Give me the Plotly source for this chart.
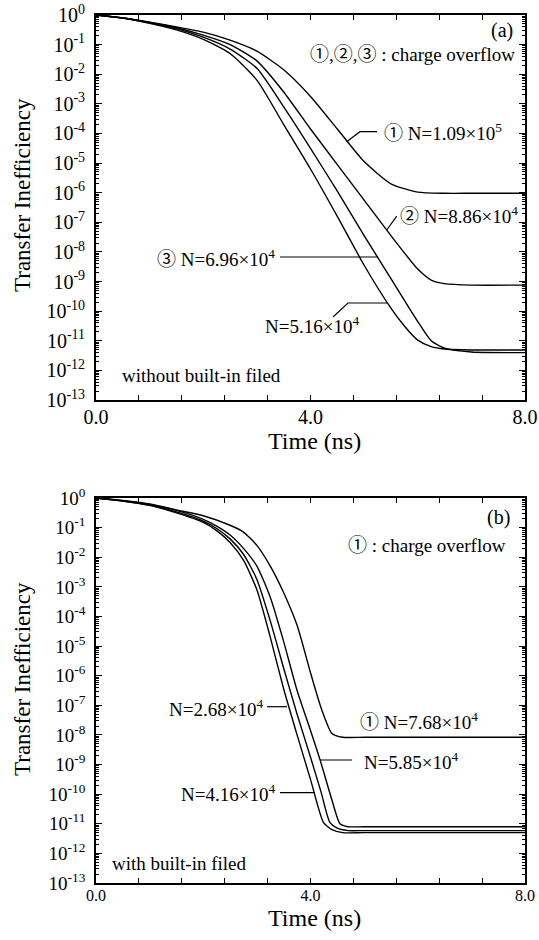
import plotly.graph_objects as go

# ---------------- data (log10 of transfer inefficiency) -------------
# panel (a): without built-in field
a1_t = [0, 0.5, 1, 1.5, 2, 2.5, 3, 3.5, 4, 4.5, 5, 5.5, 6, 6.5, 7, 8]
a1_log = [0, -0.1, -0.24, -0.4, -0.58, -0.85, -1.22, -1.85, -2.75, -3.85, -4.95, -5.7, -5.98, -6.02, -6.02, -6.02]
a2_t = [0, 0.5, 1, 1.5, 2, 2.5, 3, 3.5, 4, 4.5, 5, 5.5, 6, 6.25, 6.5, 7, 8]
a2_log = [0, -0.1, -0.25, -0.43, -0.68, -1.0, -1.55, -2.6, -3.85, -5.05, -6.25, -7.45, -8.58, -8.95, -9.07, -9.12, -9.12]
a3_t = [0, 0.5, 1, 1.5, 2, 2.5, 3, 3.5, 4, 4.5, 5, 5.5, 6, 6.25, 6.5, 7, 8]
a3_log = [0, -0.1, -0.26, -0.46, -0.75, -1.15, -1.8, -3.1, -4.5, -5.95, -7.45, -8.9, -10.35, -11.0, -11.25, -11.38, -11.4]
a4_t = [0, 0.5, 1, 1.5, 2, 2.5, 3, 3.5, 4, 4.5, 5, 5.5, 5.75, 6, 6.25, 6.5, 7, 8]
a4_log = [0, -0.1, -0.28, -0.5, -0.82, -1.3, -2.2, -3.7, -5.2, -6.8, -8.45, -9.9, -10.5, -10.98, -11.2, -11.28, -11.31, -11.31]

# panel (b): with built-in field
b1_t = [0, 0.5, 1, 1.5, 2, 2.5, 2.75, 3, 3.25, 3.5, 3.75, 4, 4.2, 4.4, 4.6, 5, 6, 7, 8]
b1_log = [0, -0.08, -0.2, -0.4, -0.6, -0.92, -1.15, -1.6, -2.3, -3.2, -4.3, -5.9, -7.1, -7.95, -8.08, -8.08, -8.08, -8.08, -8.08]
b2_t = [0, 0.5, 1, 1.5, 2, 2.25, 2.5, 2.75, 3, 3.25, 3.5, 3.75, 4, 4.18, 4.4, 4.55, 4.7, 5, 8]
b2_log = [0, -0.09, -0.22, -0.42, -0.72, -0.95, -1.25, -1.7, -2.3, -3.35, -4.85, -6.5, -7.85, -8.85, -10.2, -11.0, -11.1, -11.1, -11.1]
b3_t = [0, 0.5, 1, 1.5, 2, 2.25, 2.5, 2.75, 3, 3.25, 3.5, 3.75, 4, 4.2, 4.36, 4.5, 4.7, 5, 8]
b3_log = [0, -0.1, -0.24, -0.47, -0.78, -1.03, -1.38, -1.9, -2.75, -4.15, -5.75, -7.3, -8.75, -9.95, -10.95, -11.15, -11.23, -11.23, -11.23]
b4_t = [0, 0.5, 1, 1.5, 2, 2.25, 2.5, 2.75, 3, 3.25, 3.5, 3.75, 4, 4.24, 4.4, 4.6, 5, 8]
b4_log = [0, -0.1, -0.25, -0.5, -0.82, -1.1, -1.5, -2.1, -3.1, -4.7, -6.45, -8.0, -9.5, -10.95, -11.2, -11.3, -11.3, -11.3]

# label leader lines (x in ns, y in log10)
lead_a1 = ([4.675, 4.923, 5.24], [-4.278, -3.94, -3.94])
lead_a2 = ([5.421, 5.608], [-7.26, -6.79])
lead_a3 = ([3.431, 5.259], [-8.171, -8.171])
lead_a4 = ([4.42, 4.699, 5.427], [-10.197, -9.725, -9.725])
lead_b2 = ([4.177, 4.774], [-8.847, -8.847])
lead_b3 = ([3.431, 4.084], [-9.951, -9.951])
lead_b4 = ([3.189, 3.562], [-7.047, -7.047])

# axis ticks
x_tick_vals = [0, 0.8, 1.6, 2.4, 3.2, 4.0, 4.8, 5.6, 6.4, 7.2, 8.0]
x_tick_text = ["0.0", "", "", "", "", "4.0", "", "", "", "", "8.0"]
y_tick_exponents = [0, -1, -2, -3, -4, -5, -6, -7, -8, -9, -10, -11, -12, -13]

SERIF = "Liberation Serif, Noto Sans CJK JP"

fig = go.Figure()

def curve(t, lg, xa, ya):
    fig.add_trace(go.Scatter(x=t, y=[10 ** v for v in lg], mode="lines",
                             line=dict(color="black", width=1.4, shape="spline", smoothing=0.6),
                             xaxis=xa, yaxis=ya, hoverinfo="skip", showlegend=False))

def leader(pts, xa, ya):
    fig.add_trace(go.Scatter(x=pts[0], y=[10 ** v for v in pts[1]], mode="lines",
                             line=dict(color="black", width=1.2),
                             xaxis=xa, yaxis=ya, hoverinfo="skip", showlegend=False))

for t, lg in [(a1_t, a1_log), (a2_t, a2_log), (a3_t, a3_log), (a4_t, a4_log)]:
    curve(t, lg, "x", "y")
for t, lg in [(b1_t, b1_log), (b2_t, b2_log), (b3_t, b3_log), (b4_t, b4_log)]:
    curve(t, lg, "x2", "y2")
for p in [lead_a1, lead_a2, lead_a3, lead_a4]:
    leader(p, "x", "y")
for p in [lead_b2, lead_b3, lead_b4]:
    leader(p, "x2", "y2")

y_vals = [10 ** e for e in y_tick_exponents]
y_text = ["10<sup>%d</sup>" % e for e in y_tick_exponents]
y_minor = [m * 10 ** e for e in range(-13, 0) for m in range(2, 10)]

def xaxis(dom_anchor, fsize, standoff):
    return dict(domain=[0, 1], anchor=dom_anchor, range=[0, 8], tickmode="array",
                tickvals=x_tick_vals, ticktext=x_tick_text, ticks="inside", ticklen=5,
                tickwidth=1.3, tickcolor="black", showline=True, linecolor="black",
                linewidth=1.8, mirror="ticks", showgrid=False, zeroline=False,
                automargin=False,
                tickfont=dict(family=SERIF, size=fsize, color="black"),
                ticklabelstandoff=standoff)

def yaxis(dom, anchor, fsize):
    return dict(domain=dom, anchor=anchor, type="log", range=[-13, 0], tickmode="array",
                tickvals=y_vals, ticktext=y_text, ticks="inside", ticklen=6, tickwidth=1.3,
                tickcolor="black", showline=True, linecolor="black", linewidth=1.8,
                mirror="ticks", showgrid=False, zeroline=False, automargin=False,
                minor=dict(tickmode="array", tickvals=y_minor, ticks="inside", ticklen=3,
                           tickwidth=1, tickcolor="black", showgrid=False),
                tickfont=dict(family=SERIF, size=fsize, color="black"),
                ticklabelstandoff=5)

H = 868.0
fig.update_layout(
    template="none",
    width=539, height=940, autosize=False,
    margin=dict(l=96, r=14, t=15, b=57, autoexpand=False),
    plot_bgcolor="white", paper_bgcolor="white",
    font=dict(family=SERIF, color="black"),
    xaxis=xaxis("y", 20, -2),
    yaxis=yaxis([1 - 385 / H, 1], "x", 20),
    xaxis2=xaxis("y2", 16, -3),
    yaxis2=yaxis([0, 385 / H], "x2", 19),
    showlegend=False,
)

def txt(text, x, y, xref, yref, size, xanchor="left", angle=0, yanchor="middle", xshift=0):
    fig.add_annotation(text=text, x=x, y=y, xref=xref, yref=yref, showarrow=False,
                       xanchor=xanchor, yanchor=yanchor, textangle=angle, xshift=xshift,
                       font=dict(family=SERIF, size=size, color="black"))

# panel (a) labels (x in ns, y in log10)
txt("(a)", 7.571, -0.507, "x", "y", 20, "center")
txt("①,②,③ : charge overflow", 7.851, -1.317, "x", "y", 19, "right")
txt("① N=1.09×10<sup>5</sup>", 5.333, -3.951, "x", "y", 19)
txt("② N=8.86×10<sup>4</sup>", 5.632, -6.753, "x", "y", 19)
txt("③ N=6.96×10<sup>4</sup>", 3.375, -8.205, "x", "y", 19, "right")
txt("N=5.16×10<sup>4</sup>", 3.114, -10.468, "x", "y", 19)
txt("without built-in filed", 0.4476, -12.156, "x", "y", 19)

# panel (b) labels
txt("(b)", 7.515, -0.642, "x2", "y2", 20, "center")
txt("① : charge overflow", 7.683, -1.587, "x2", "y2", 19, "right")
txt("① N=7.68×10<sup>4</sup>", 4.886, -7.53, "x2", "y2", 19)
txt("N=5.85×10<sup>4</sup>", 4.96, -8.88, "x2", "y2", 19)
txt("N=4.16×10<sup>4</sup>", 3.375, -9.961, "x2", "y2", 19, "right")
txt("N=2.68×10<sup>4</sup>", 3.151, -7.09, "x2", "y2", 19, "right")
txt("with built-in filed", 0.261, -12.325, "x2", "y2", 19)

# axis titles
txt("Transfer Inefficiency", 0, 1 - (195 - 15) / H, "paper", "paper", 23, "center", -90, xshift=-74)
txt("Transfer Inefficiency", 0, 1 - (679 - 15) / H, "paper", "paper", 23, "center", -90, xshift=-74)
txt("Time (ns)", (314 - 96) / 429, 1 - (441 - 15) / H, "paper", "paper", 24, "center")
txt("Time (ns)", (314 - 96) / 429, 1 - (918 - 15) / H, "paper", "paper", 24, "center")

fig.write_html("out.html")
